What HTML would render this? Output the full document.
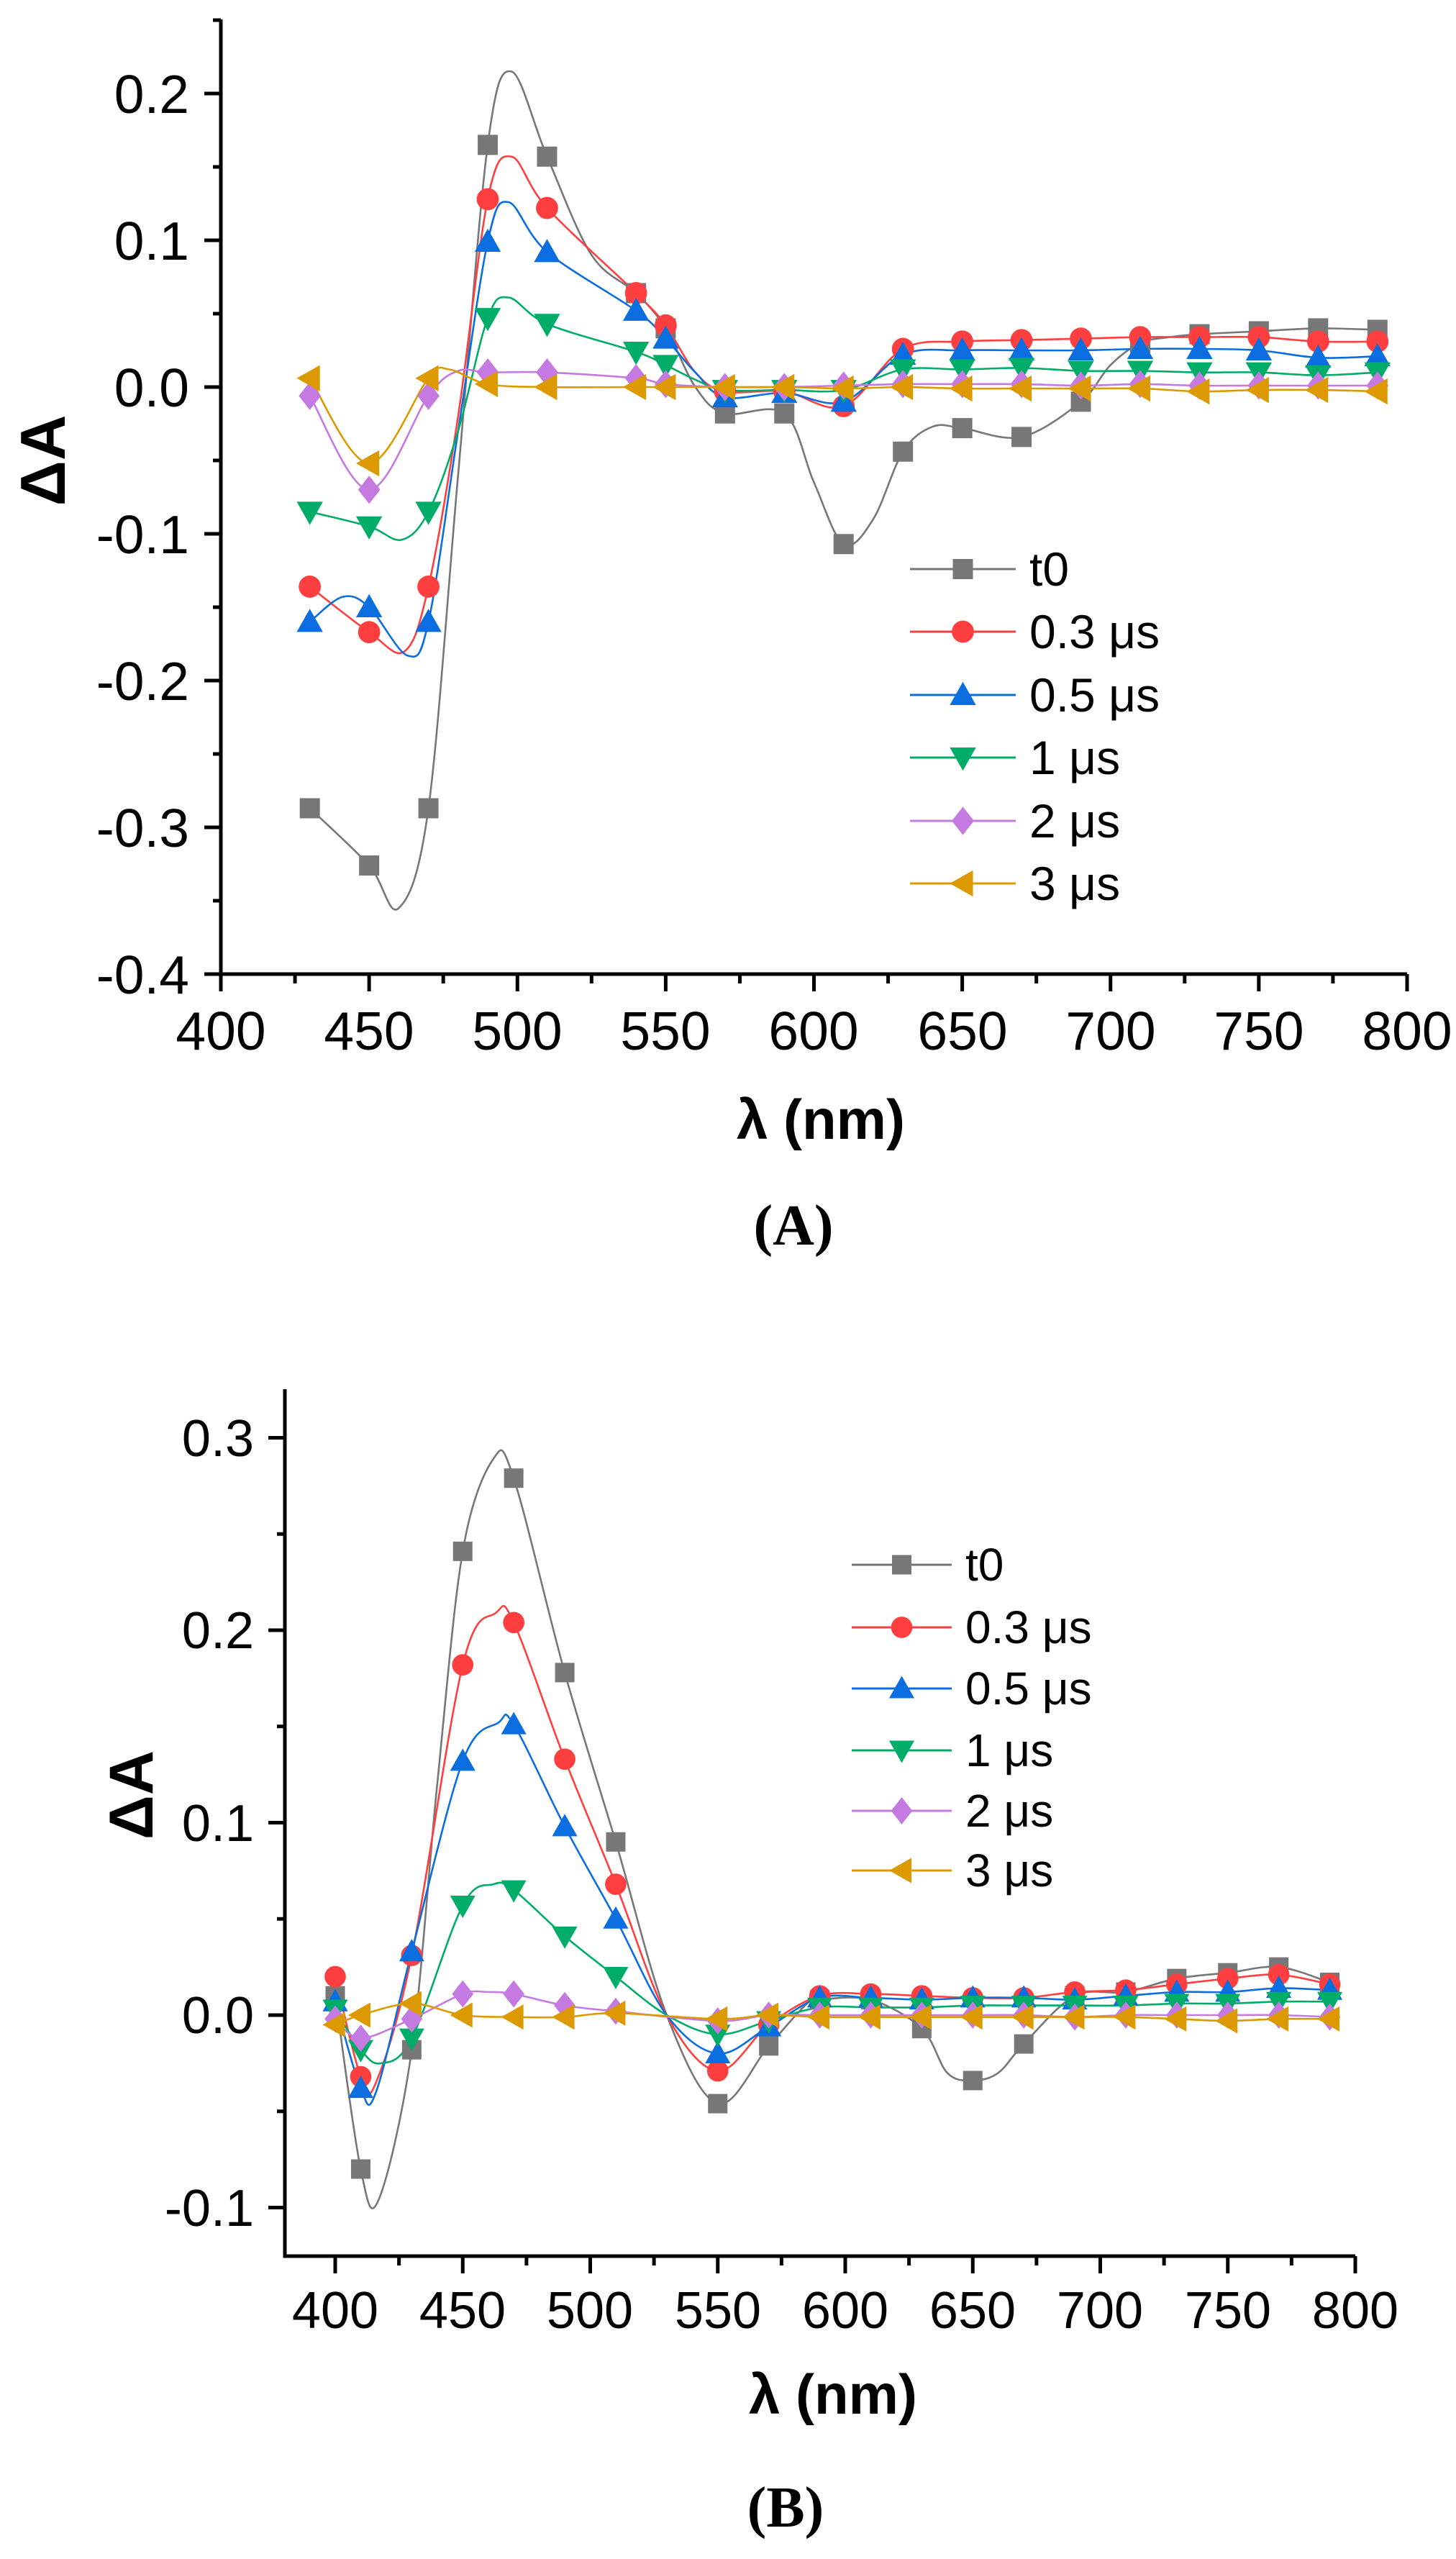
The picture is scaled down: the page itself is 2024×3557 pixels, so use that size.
<!DOCTYPE html>
<html><head><meta charset="utf-8"><style>
html,body{margin:0;padding:0;background:#fff;}
svg{display:block;}
text{font-family:"Liberation Sans",Arial,sans-serif;fill:#000;}
</style></head><body>
<svg id="s" width="2024" height="3557" viewBox="0 0 2024 3557" xmlns="http://www.w3.org/2000/svg">
<rect width="2024" height="3557" fill="#fff"/>
<g id="A"></g><g id="B"></g>
<g font-size="75" text-anchor="end">
<text x="263" y="157">0.2</text><text x="263" y="361">0.1</text><text x="263" y="565">0.0</text>
<text x="263" y="769">-0.1</text><text x="263" y="973">-0.2</text><text x="263" y="1177">-0.3</text><text x="263" y="1381">-0.4</text>
</g>
<g font-size="75" text-anchor="middle">
<text x="307" y="1459">400</text><text x="513" y="1459">450</text><text x="719" y="1459">500</text><text x="925" y="1459">550</text>
<text x="1131" y="1459">600</text><text x="1338" y="1459">650</text><text x="1544" y="1459">700</text><text x="1750" y="1459">750</text><text x="1956" y="1459">800</text>
</g>
<text x="1141" y="1583" font-size="78" font-weight="bold" text-anchor="middle">λ (nm)</text>
<text transform="translate(90,640) rotate(-90)" font-size="88" font-weight="bold" text-anchor="middle">ΔA</text>
<text x="1103" y="1730" font-size="80" font-weight="bold" text-anchor="middle" style="font-family:'Liberation Serif',serif">(A)</text>
<g font-size="66">
<text x="1431" y="814">t0</text><text x="1431" y="901">0.3 μs</text><text x="1431" y="989">0.5 μs</text>
<text x="1431" y="1076">1 μs</text><text x="1431" y="1164">2 μs</text><text x="1431" y="1251">3 μs</text>
</g>
<g font-size="72" text-anchor="end">
<text x="353" y="2024">0.3</text><text x="353" y="2291">0.2</text><text x="353" y="2559">0.1</text>
<text x="353" y="2826">0.0</text><text x="353" y="3094">-0.1</text>
</g>
<g font-size="72" text-anchor="middle">
<text x="466" y="3236">400</text><text x="643" y="3236">450</text><text x="820" y="3236">500</text><text x="998" y="3236">550</text>
<text x="1175" y="3236">600</text><text x="1352" y="3236">650</text><text x="1529" y="3236">700</text><text x="1707" y="3236">750</text><text x="1884" y="3236">800</text>
</g>
<text x="1158" y="3355" font-size="78" font-weight="bold" text-anchor="middle">λ (nm)</text>
<text transform="translate(212,2495) rotate(-90)" font-size="86" font-weight="bold" text-anchor="middle">ΔA</text>
<text x="1092" y="3512" font-size="80" font-weight="bold" text-anchor="middle" style="font-family:'Liberation Serif',serif">(B)</text>
<g font-size="64">
<text x="1342" y="2197">t0</text><text x="1342" y="2284">0.3 μs</text><text x="1342" y="2369">0.5 μs</text>
<text x="1342" y="2455">1 μs</text><text x="1342" y="2539">2 μs</text><text x="1342" y="2622">3 μs</text>
</g>
</svg>
<script>
var NS="http://www.w3.org/2000/svg";
function el(p,t,a){var e=document.createElementNS(NS,t);for(var k in a)e.setAttribute(k,a[k]);p.appendChild(e);return e;}
var COL=["#777777","#ff3f3f","#0a6ee0","#00ad68","#c47ae0","#dc9a00"];
function spline(pts){var d="M"+pts[0][0]+","+pts[0][1];for(var i=0;i<pts.length-1;i++){var p0=pts[Math.max(0,i-1)],p1=pts[i],p2=pts[i+1],p3=pts[Math.min(pts.length-1,i+2)];
var c1=[p1[0]+(p2[0]-p0[0])/6,p1[1]+(p2[1]-p0[1])/6],c2=[p2[0]-(p3[0]-p1[0])/6,p2[1]-(p3[1]-p1[1])/6];
d+=" C"+c1[0].toFixed(1)+","+c1[1].toFixed(1)+" "+c2[0].toFixed(1)+","+c2[1].toFixed(1)+" "+p2[0].toFixed(1)+","+p2[1].toFixed(1);}return d;}
function marker(g,k,x,y,s){var c=COL[k];
if(k==0)el(g,"rect",{x:x-s*0.5,y:y-s*0.5,width:s,height:s,fill:c});
else if(k==1)el(g,"circle",{cx:x,cy:y,r:s*0.55,fill:c});
else if(k==2)el(g,"polygon",{points:[x,y-s*0.65,x-s*0.65,y+s*0.5,x+s*0.65,y+s*0.5].join(" "),fill:c});
else if(k==3)el(g,"polygon",{points:[x,y+s*0.65,x-s*0.65,y-s*0.5,x+s*0.65,y-s*0.5].join(" "),fill:c});
else if(k==4)el(g,"polygon",{points:[x,y-s*0.7,x+s*0.55,y,x,y+s*0.7,x-s*0.55,y].join(" "),fill:c});
else el(g,"polygon",{points:[x-s*0.65,y,x+s*0.5,y-s*0.65,x+s*0.5,y+s*0.65].join(" "),fill:c});}
function chart(id,cfg){var g=document.getElementById(id);
var X=function(n){return cfg.x0+(n-cfg.n0)*cfg.sx;},Y=function(v){return cfg.y0-v*cfg.sy;};
el(g,"line",{x1:cfg.L,y1:cfg.T,x2:cfg.L,y2:cfg.Bt+2.5,stroke:"#000","stroke-width":5});
el(g,"line",{x1:cfg.L-2.5,y1:cfg.Bt,x2:cfg.R,y2:cfg.Bt,stroke:"#000","stroke-width":5});
cfg.yt.forEach(function(v){var y=Y(v);var maj=Math.abs(Math.round(v*10)-v*10)<1e-6;el(g,"line",{x1:maj?cfg.L-23:cfg.L-11,y1:y,x2:cfg.L,y2:y,stroke:"#000","stroke-width":5});});
for(var n=cfg.xs;n<=800;n+=25){var x=X(n);el(g,"line",{x1:x,y1:cfg.Bt,x2:x,y2:cfg.Bt+((n%50)?13:24),stroke:"#000","stroke-width":5});}
cfg.series.forEach(function(s,k){var pts=s.c.map(function(p){return [X(p[0]),Y(p[1])];});
el(g,"path",{d:spline(pts),fill:"none",stroke:COL[k],"stroke-width":2.6});});
cfg.series.forEach(function(s,k){s.m.forEach(function(p){marker(g,k,X(p[0]),Y(p[1]),cfg.ms);});});
cfg.leg.forEach(function(y,k){el(g,"line",{x1:cfg.lx1,y1:y,x2:cfg.lx2,y2:y,stroke:COL[k],"stroke-width":3});marker(g,k,(cfg.lx1+cfg.lx2)/2,y,cfg.ms);});}
function mk(xs,vs){return xs.map(function(x,i){return [x,vs[i]];});}
function merge(m,extra){var a=m.concat(extra);a.sort(function(p,q){return p[0]-q[0];});return a;}
var XA=[430,450,470,490,510,540,550,570,590,610,630,650,670,690,710,730,750,770,790];
var A=[
[-0.287,-0.326,-0.287,0.165,0.157,0.064,0.040,-0.018,-0.018,-0.107,-0.044,-0.028,-0.034,-0.010,0.030,0.036,0.038,0.040,0.039],
[-0.136,-0.167,-0.136,0.128,0.122,0.064,0.042,-0.003,-0.003,-0.013,0.026,0.031,0.032,0.033,0.034,0.034,0.034,0.031,0.031],
[-0.160,-0.150,-0.160,0.099,0.092,0.052,0.033,-0.007,-0.004,-0.010,0.022,0.025,0.025,0.025,0.026,0.026,0.025,0.020,0.021],
[-0.085,-0.095,-0.085,0.047,0.043,0.024,0.015,-0.002,-0.002,-0.002,0.012,0.012,0.013,0.011,0.011,0.010,0.010,0.008,0.010],
[-0.006,-0.070,-0.006,0.010,0.010,0.006,0.002,0.000,0.000,0.001,0.002,0.002,0.002,0.001,0.002,0.001,0.001,0.001,0.001],
[0.006,-0.052,0.006,0.002,0.000,0.000,0.000,0.000,0.000,-0.001,0.000,-0.001,-0.001,-0.001,-0.001,-0.003,-0.002,-0.002,-0.003]];
var EA=[[[460,-0.355],[480,-0.06],[498,0.215],[525,0.09],[560,0.000],[600,-0.065],[620,-0.09],[640,-0.027],[700,0.015],[720,0.034]],
[[462,-0.18],[480,-0.02],[498,0.157],[560,0.01]],
[[441,-0.143],[463,-0.183],[480,-0.03],[497,0.126],[560,0.01]],
[[461,-0.104],[480,-0.03],[497,0.061],[560,0.005]],
[[480,0.011]],
[[477,0.012]]];
var XB=[400,410,430,450,470,490,510,550,570,590,610,630,650,670,690,710,730,750,770,790];
var B=[
[0.010,-0.080,-0.018,0.241,0.279,0.178,0.090,-0.046,-0.016,0.008,0.008,-0.007,-0.034,-0.015,0.010,0.012,0.019,0.022,0.025,0.017],
[0.020,-0.032,0.031,0.182,0.204,0.133,0.068,-0.029,-0.005,0.010,0.011,0.010,0.009,0.009,0.012,0.013,0.016,0.019,0.021,0.016],
[0.007,-0.038,0.033,0.132,0.151,0.098,0.050,-0.020,-0.006,0.009,0.009,0.008,0.009,0.009,0.008,0.010,0.012,0.012,0.014,0.013],
[0.003,-0.018,-0.012,0.057,0.065,0.041,0.020,-0.010,-0.003,0.004,0.004,0.004,0.005,0.005,0.005,0.005,0.006,0.006,0.007,0.007],
[-0.002,-0.012,-0.002,0.011,0.011,0.005,0.002,-0.003,0.000,0.000,0.000,0.000,0.000,0.000,-0.001,0.000,0.000,0.000,0.000,-0.001],
[-0.005,0.000,0.006,0.000,-0.001,-0.001,0.001,-0.002,0.000,-0.001,-0.001,-0.001,-0.001,-0.001,-0.001,-0.001,-0.002,-0.003,-0.002,-0.002]];
var EB=[[[417,-0.096],[440,0.12],[462,0.289],[530,0.0],[585,0.006],[640,-0.03],[660,-0.03]],
[[416,-0.035],[463,0.209],[530,0.0]],
[[416,-0.04],[464,0.152],[530,0.0]],
[[418,-0.025],[462,0.068],[530,0.0]],
[[460,0.012]],
[]];
chart("A",{x0:307,n0:400,sx:4.1225,y0:538,sy:2040,L:307,R:1956,T:27,Bt:1354,xs:400,
 yt:[0.25,0.2,0.15,0.1,0.05,0,-0.05,-0.1,-0.15,-0.2,-0.25,-0.3,-0.35,-0.4],
 ms:28,lx1:1265,lx2:1412,leg:[791,878,966,1053,1141,1228],
 series:A.map(function(v,k){var m=mk(XA,v);return {m:m,c:merge(m,EA[k])};})});
chart("B",{x0:466,n0:400,sx:3.545,y0:2801,sy:2675,L:396,R:1884,T:1931,Bt:3136,xs:400,
 yt:[0.3,0.25,0.2,0.15,0.1,0.05,0,-0.05,-0.1],
 ms:27,lx1:1184,lx2:1323,leg:[2175,2262,2347,2433,2517,2600],
 series:B.map(function(v,k){var m=mk(XB,v);return {m:m,c:merge(m,EB[k])};})});
</script>
</body></html>
